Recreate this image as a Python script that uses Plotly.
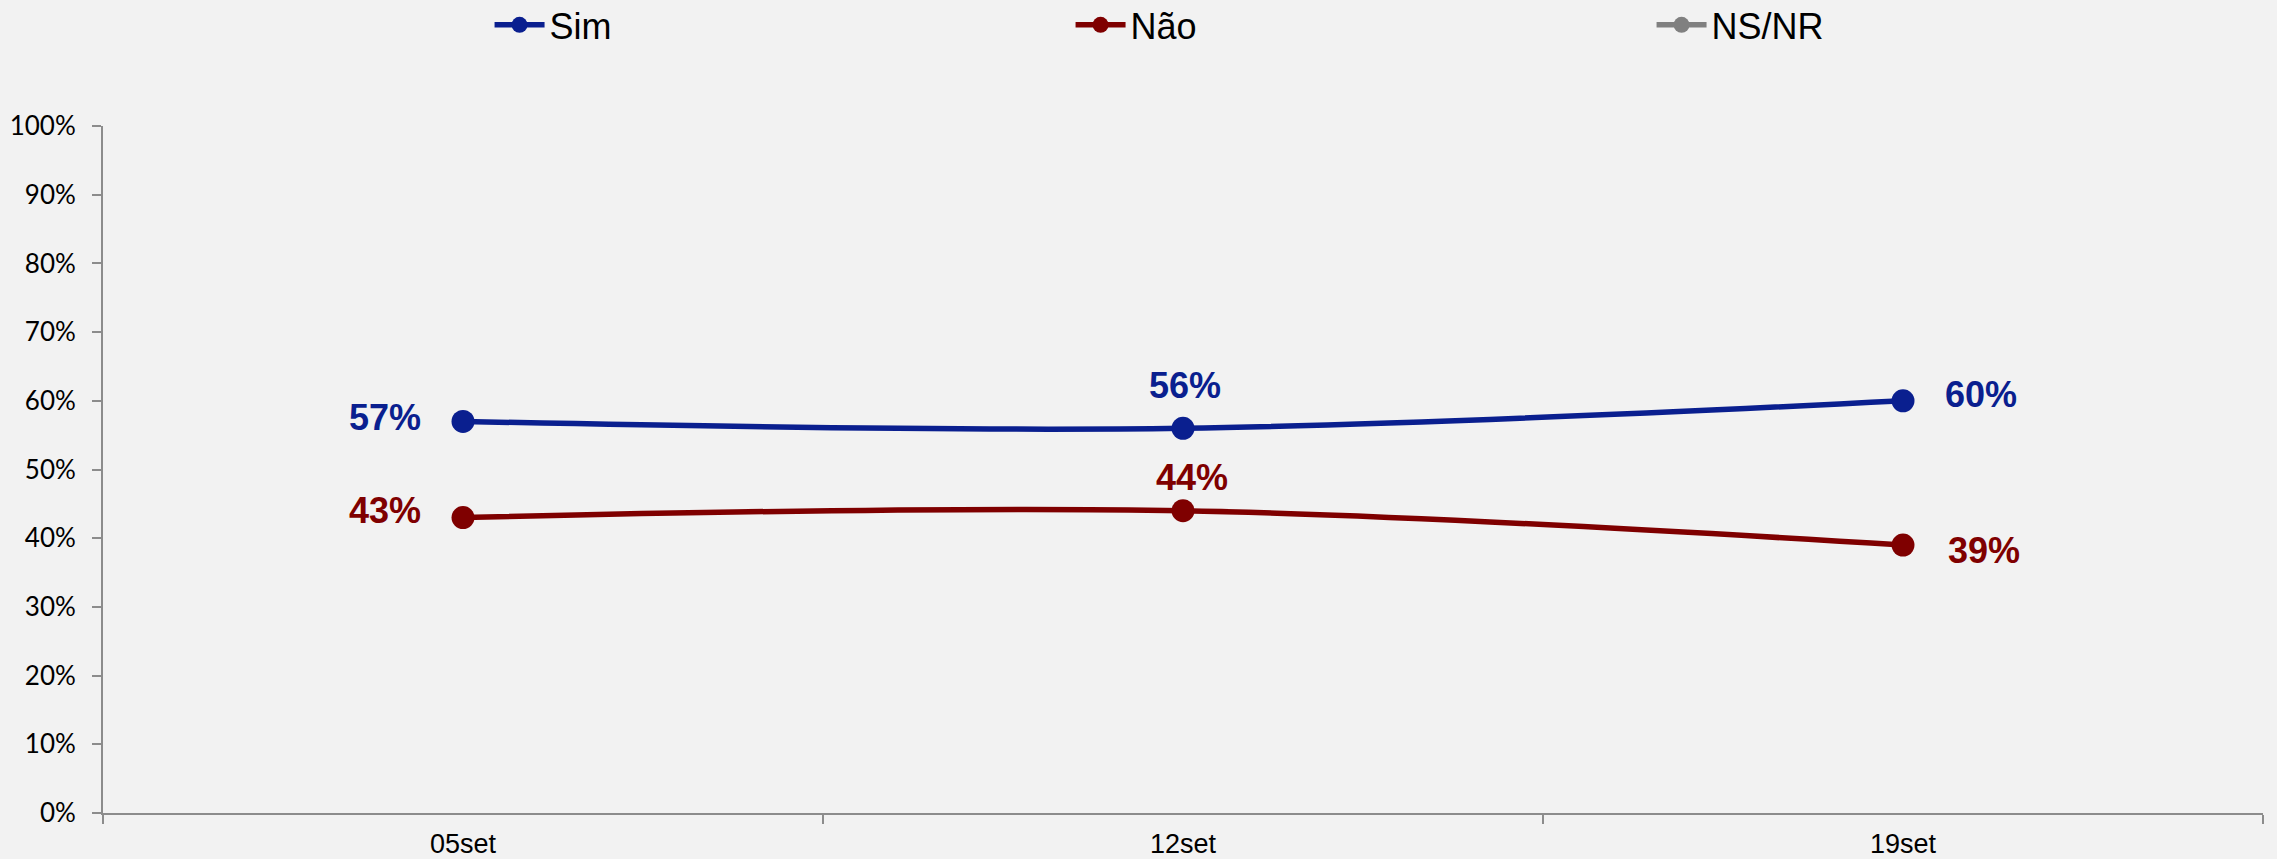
import plotly.graph_objects as go

categories = ["05set", "12set", "19set"]
sim = [57, 56, 60]
nao = [43, 44, 39]
nsnr = [None, None, None]
series_names = ["Sim", "Não", "NS/NR"]
y_ticks = [0, 10, 20, 30, 40, 50, 60, 70, 80, 90, 100]
y_ticklabels = [f"{v}%" for v in y_ticks]

BLUE = "#0A1F8F"
RED = "#7F0000"
GRAY = "#808080"

# label offsets (pixels) relative to each point
sim_shift = [(-78, 4), (2, 43), (78, 6)]
nao_shift = [(-78, 7), (9, 33), (81, -5)]

fig = go.Figure()

def add(name, vals, color):
    fig.add_trace(go.Scatter(
        x=categories, y=vals, name=name, mode="lines+markers",
        line=dict(color=color, width=5.5, shape="spline", smoothing=1),
        marker=dict(color=color, size=23),
        hoverinfo="skip",
    ))

add(series_names[0], sim, BLUE)
add(series_names[1], nao, RED)
add(series_names[2], nsnr, GRAY)

for vals, shifts, color in [(sim, sim_shift, BLUE), (nao, nao_shift, RED)]:
    for c, v, (dx, dy) in zip(categories, vals, shifts):
        fig.add_annotation(
            x=c, y=v, text=f"{v}%", showarrow=False,
            xshift=dx, yshift=dy, xanchor="center", yanchor="middle",
            font=dict(family="Liberation Sans, Arial", size=36, color=color, weight="bold"),
        )

fig.update_layout(
    width=2277, height=859,
    paper_bgcolor="#F2F2F2", plot_bgcolor="#F2F2F2",
    margin=dict(l=103, r=14, t=126, b=46, autoexpand=False),
    showlegend=True,
    legend=dict(
        orientation="h", xref="container", yref="container",
        x=0.215, y=0.971, xanchor="left", yanchor="middle",
        font=dict(family="Liberation Sans, Arial", size=36, color="#000000"),
        entrywidth=516, entrywidthmode="pixels",
        itemwidth=50, bgcolor="rgba(0,0,0,0)",
    ),
    xaxis=dict(
        type="category", range=[-0.5, 2.5], automargin=False,
        showline=True, linecolor="#8C8C8C", linewidth=2,
        ticks="outside", tickson="boundaries", ticklen=9, tickcolor="#8C8C8C", tickwidth=2,
        showgrid=False, zeroline=False, ticklabelstandoff=6,
        tickfont=dict(family="Liberation Sans, Arial", size=27, color="#000000"),
    ),
    yaxis=dict(
        range=[0, 100], tickvals=y_ticks, ticktext=y_ticklabels, automargin=False,
        showline=True, linecolor="#8C8C8C", linewidth=2,
        ticks="outside", ticklen=9, tickcolor="#8C8C8C", tickwidth=2,
        showgrid=False, zeroline=False, ticklabelstandoff=11,
        tickfont=dict(family="Lato, Open Sans", size=26, color="#000000"),
    ),
)

fig.write_html(
    "out.html",
    config={"displayModeBar": False},
    post_script="document.body.style.margin='0';document.body.style.background='#F2F2F2';",
)
